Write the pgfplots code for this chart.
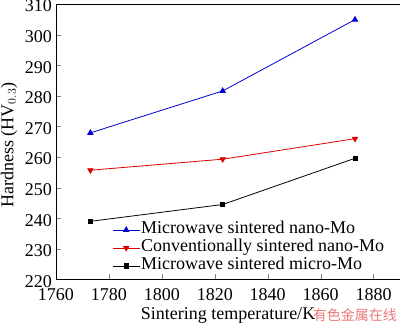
\documentclass[border=0pt]{standalone}
\usepackage{pgfplots}
\pgfplotsset{compat=1.18}
\usepackage{fontspec}
\setmainfont{Liberation Serif}
\newfontfamily\cjk{Noto Sans CJK SC}
\begin{document}
\begin{tikzpicture}
\begin{axis}[
  scale only axis,
  width=344pt, height=275.5pt,
  xmin=1760, xmax=1890, ymin=220, ymax=310,
  xtick={1760,1780,...,1880},
  ytick={220,230,...,310},
  xticklabel={\rmfamily\pgfmathprintnumber[assume math mode=true,1000 sep={},fixed,precision=0]{\tick}},
  yticklabel={\rmfamily\pgfmathprintnumber[assume math mode=true,1000 sep={},fixed,precision=0]{\tick}},
  tick align=inside,
  xtick pos=bottom, ytick pos=left,
  major tick length=5pt,
  ticklabel style={font=\rmfamily\fontsize{18}{20}\selectfont},
  x tick label style={inner sep=0pt, yshift=-9pt},
  y tick label style={inner sep=0pt, xshift=-4pt, yshift=-2pt},
  xlabel={Sintering temperature/K},
  label style={font=\fontsize{18}{20}\selectfont},
  xlabel style={at={(rel axis cs:0.5,0)}, anchor=center, yshift=-36pt},
  axis line style={line width=0.8pt},
  legend style={at={(axis cs:1781.2,239.2)}, anchor=north west, draw=none, fill=none,
    font=\fontsize{18}{18}\selectfont, row sep=0pt, inner sep=0pt,
    nodes={text height=12pt, text depth=4pt, inner sep=1pt}},
  legend cell align=left,
  legend image code/.code={\draw[mark repeat=2,mark phase=2] plot coordinates {(0pt,0pt) (13.5pt,0pt) (27pt,0pt)};},
]
\addplot[color={rgb,255:red,0;green,0;blue,210}, line width=0.8pt, mark=triangle*, mark size=3pt] coordinates {(1773,267.9) (1823,281.6) (1873,304.9)};
\addlegendentry{Microwave sintered nano-Mo}
\addplot[color={rgb,255:red,220;green,0;blue,0}, line width=0.8pt, mark=triangle*, mark options={rotate=180}, mark size=3pt] coordinates {(1773,255.7) (1823,259.3) (1873,266.0)};
\addlegendentry{Conventionally sintered nano-Mo}
\addplot[color=black, line width=0.8pt, mark=square*, mark size=2.1pt] coordinates {(1773,239.0) (1823,244.5) (1873,259.6)};
\addlegendentry{Microwave sintered micro-Mo}
\end{axis}
\node[rotate=90, font=\fontsize{18}{20}\selectfont, inner sep=0pt] at (-47pt,134.5pt) {Hardness (HV$_{0.3}$)};
\node[anchor=east, text={rgb,255:red,235;green,120;blue,120}, font=\cjk\fontsize{14}{14}\selectfont, inner sep=0pt] at (341pt,-36pt) {有色金属在线};
\pgfresetboundingbox
\path[use as bounding box] (-56pt,-46.5pt) rectangle (344pt,279.5pt);
\end{tikzpicture}
\end{document}
